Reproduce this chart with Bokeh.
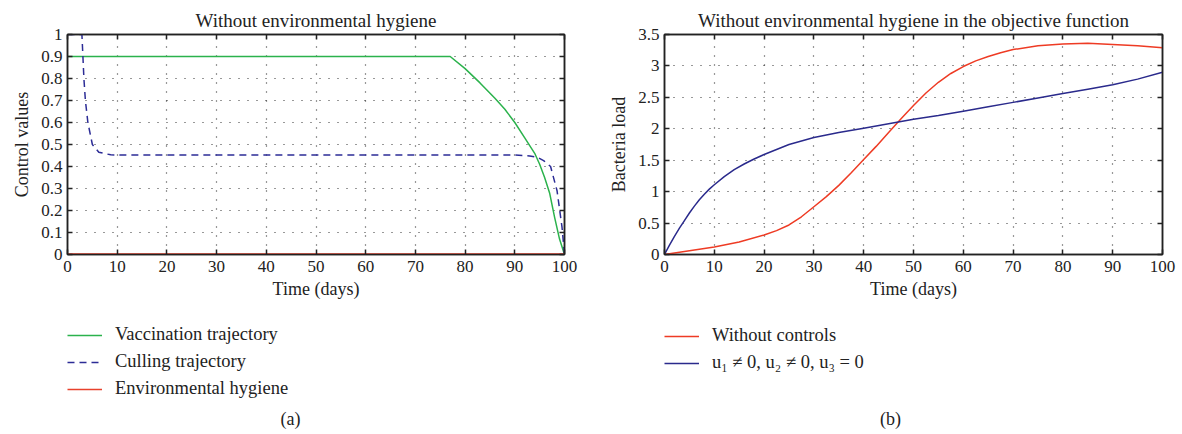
from bokeh.plotting import figure
from bokeh.models import (Legend, LegendItem, LinearAxis, Label, FixedTicker, Range1d,
                          CustomJSTickFormatter)
from bokeh.layouts import row, column
from bokeh.embed import file_html
from bokeh.resources import INLINE

# ---- data (a) ----
t_vac = [0, 77, 80, 83, 86, 88, 90, 92, 94, 95, 96, 97, 98, 99, 100]
vac = [0.9, 0.9, 0.845, 0.78, 0.71, 0.66, 0.60, 0.53, 0.46, 0.41, 0.35, 0.28, 0.17, 0.07, 0.0]

t_cull = [0, 2.9, 3.1, 3.3, 3.6, 4.1, 5.0, 6.3, 8.7, 12, 50, 90, 93, 94.5, 95.8, 97.2, 98.5, 99.5, 100]
cull = [1.0, 1.0, 0.9, 0.8, 0.7, 0.6, 0.5, 0.465, 0.453, 0.452, 0.452, 0.452, 0.448, 0.442, 0.427, 0.40, 0.29, 0.124, 0.0]

t_hyg = [0, 100]
hyg = [0, 0]

# ---- data (b) ----
t_nc = [0, 5, 10, 15, 20, 22.5, 25, 27.5, 30, 32.5, 35, 37.5, 40, 42.5, 45, 47.5, 50,
        52.5, 55, 57.5, 60, 62.5, 65, 67.5, 70, 75, 80, 85, 90, 95, 100]
no_ctrl = [0, 0.06, 0.12, 0.2, 0.31, 0.38, 0.47, 0.6, 0.76, 0.92, 1.1, 1.3, 1.51, 1.72, 1.94, 2.16, 2.37,
           2.57, 2.74, 2.88, 2.99, 3.08, 3.15, 3.21, 3.26, 3.32, 3.35, 3.36, 3.34, 3.32, 3.29]
t_c = [0, 1, 2, 3, 4, 5, 6, 7, 8, 9, 10, 12, 14, 16, 18, 20, 25, 30, 35, 40, 45, 50,
       55, 60, 65, 70, 75, 80, 85, 90, 95, 100]
ctrl = [0, 0.15, 0.29, 0.42, 0.54, 0.66, 0.77, 0.87, 0.96, 1.04, 1.11, 1.24, 1.35, 1.44, 1.52, 1.59,
        1.75, 1.86, 1.94, 2.01, 2.08, 2.15, 2.21, 2.28, 2.35, 2.42, 2.49, 2.56, 2.63, 2.70, 2.79, 2.90]

x_ticks = [0, 10, 20, 30, 40, 50, 60, 70, 80, 90, 100]
ya_ticks = [0, 0.1, 0.2, 0.3, 0.4, 0.5, 0.6, 0.7, 0.8, 0.9, 1]
yb_ticks = [0, 0.5, 1, 1.5, 2, 2.5, 3, 3.5]

labels_a = ["Vaccination trajectory", "Culling trajectory", "Environmental hygiene"]
labels_b = ["Without controls", "u\u2081 \u2260 0, u\u2082 \u2260 0, u\u2083 = 0"]

FONT = "Liberation Serif"
TXT = "#222222"
GREEN, NAVY_A, RED_A = "#2bb24c", "#2c2c96", "#e8412c"
RED_B, NAVY_B = "#ee3b24", "#2a2a8c"
BLANK = CustomJSTickFormatter(code="return ''")


def box_axis(ticks):
    return LinearAxis(ticker=FixedTicker(ticks=ticks), formatter=BLANK,
                      major_tick_in=5, major_tick_out=0, minor_tick_in=0, minor_tick_out=0,
                      major_label_standoff=0,
                      axis_line_color="#222222", axis_line_width=1.5,
                      major_tick_line_color="#222222", major_tick_line_width=1.5)


def style(p, yticks):
    p.x_range = Range1d(0, 100)
    p.y_range = Range1d(yticks[0], yticks[-1])
    p.outline_line_color = "#222222"
    p.outline_line_width = 1.5
    p.title.text_font = FONT
    p.title.text_font_size = "19px"
    p.title.text_font_style = "normal"
    p.title.text_color = TXT
    p.title.align = "center"
    p.title.standoff = 8
    for ax in p.axis:
        ax.major_label_text_font = FONT
        ax.major_label_text_font_size = "17px"
        ax.major_label_text_color = TXT
        ax.axis_label_text_font = FONT
        ax.axis_label_text_font_size = "18px"
        ax.axis_label_text_font_style = "normal"
        ax.axis_label_text_color = TXT
        ax.major_tick_in = 5
        ax.major_tick_out = 0
        ax.minor_tick_in = 0
        ax.minor_tick_out = 0
        ax.axis_line_color = "#222222"
        ax.axis_line_width = 1.5
        ax.major_tick_line_color = "#222222"
        ax.major_tick_line_width = 1.5
    p.xaxis.ticker = FixedTicker(ticks=x_ticks)
    p.yaxis.ticker = FixedTicker(ticks=yticks)
    p.xaxis.major_label_standoff = 6
    p.yaxis.major_label_standoff = 5
    p.xaxis.axis_label_standoff = 4
    p.yaxis.axis_label_standoff = 6
    p.add_layout(box_axis(x_ticks), "above")
    p.add_layout(box_axis(yticks), "right")
    p.xgrid.ticker = FixedTicker(ticks=x_ticks)
    p.ygrid.ticker = FixedTicker(ticks=yticks)
    for g in (p.xgrid, p.ygrid):
        g.grid_line_color = "#333333"
        g.grid_line_dash = "1 8"
        g.grid_line_width = 1.2


def legend_fig(width, specs, loc, tag, tag_x):
    # the legend proxies reuse the panel's series, but this strip's ranges lie
    # outside the data so only the legend itself is visible
    f = figure(width=width, height=124, x_axis_type=None, y_axis_type=None,
               x_range=Range1d(-20, -10), y_range=Range1d(-20, -10),
               min_border=0, output_backend="svg", toolbar_location=None)
    f.outline_line_color = None
    items = []
    for label, xs, ys, color, dash in specs:
        r = f.line(xs, ys, line_color=color, line_width=1.5, line_dash=dash)
        items.append(LegendItem(label=label, renderers=[r]))
    f.add_layout(Legend(items=items, location=loc, orientation="vertical",
                        background_fill_alpha=0, border_line_color=None,
                        label_text_font=FONT, label_text_font_size="18.5px", label_text_color=TXT,
                        glyph_width=35, label_standoff=13, spacing=6, padding=0, margin=0,
                        label_height=20, glyph_height=20), "center")
    f.add_layout(Label(x=tag_x, y=6, x_units="screen", y_units="screen", text=tag,
                       text_font=FONT, text_font_size="18px", text_color=TXT,
                       text_align="center"))
    return f


# ---- panel (a) ----
pa = figure(width=600, height=310,
            min_border_left=67, min_border_right=36, min_border_top=34, min_border_bottom=56,
            output_backend="svg", toolbar_location=None,
            title="Without environmental hygiene",
            x_axis_label="Time (days)", y_axis_label="Control values")
style(pa, ya_ticks)
pa.line(t_vac, vac, line_color=GREEN, line_width=1.5)
pa.line(t_cull, cull, line_color=NAVY_A, line_width=1.5, line_dash="7 5")
pa.line(t_hyg, hyg, line_color=RED_A, line_width=2.5)

# ---- panel (b) ----
pb = figure(width=582, height=310,
            min_border_left=64, min_border_right=20, min_border_top=34, min_border_bottom=56,
            output_backend="svg", toolbar_location=None,
            title="Without environmental hygiene in the objective function",
            x_axis_label="Time (days)", y_axis_label="Bacteria load")
style(pb, yb_ticks)
pb.line(t_nc, no_ctrl, line_color=RED_B, line_width=1.5)
pb.line(t_c, ctrl, line_color=NAVY_B, line_width=1.5)

la = legend_fig(600, [(labels_a[0], t_vac, vac, GREEN, "solid"),
                      (labels_a[1], t_cull, cull, NAVY_A, "7 5"),
                      (labels_a[2], t_hyg, hyg, RED_A, "solid")], (67, 35), "(a)", 290)
lb = legend_fig(582, [(labels_b[0], t_nc, no_ctrl, RED_B, "solid"),
                      (labels_b[1], t_c, ctrl, NAVY_B, "solid")], (64, 61), "(b)", 290)

layout = column(row(pa, pb), row(la, lb))
open("out.html", "w").write(file_html(layout, INLINE))
